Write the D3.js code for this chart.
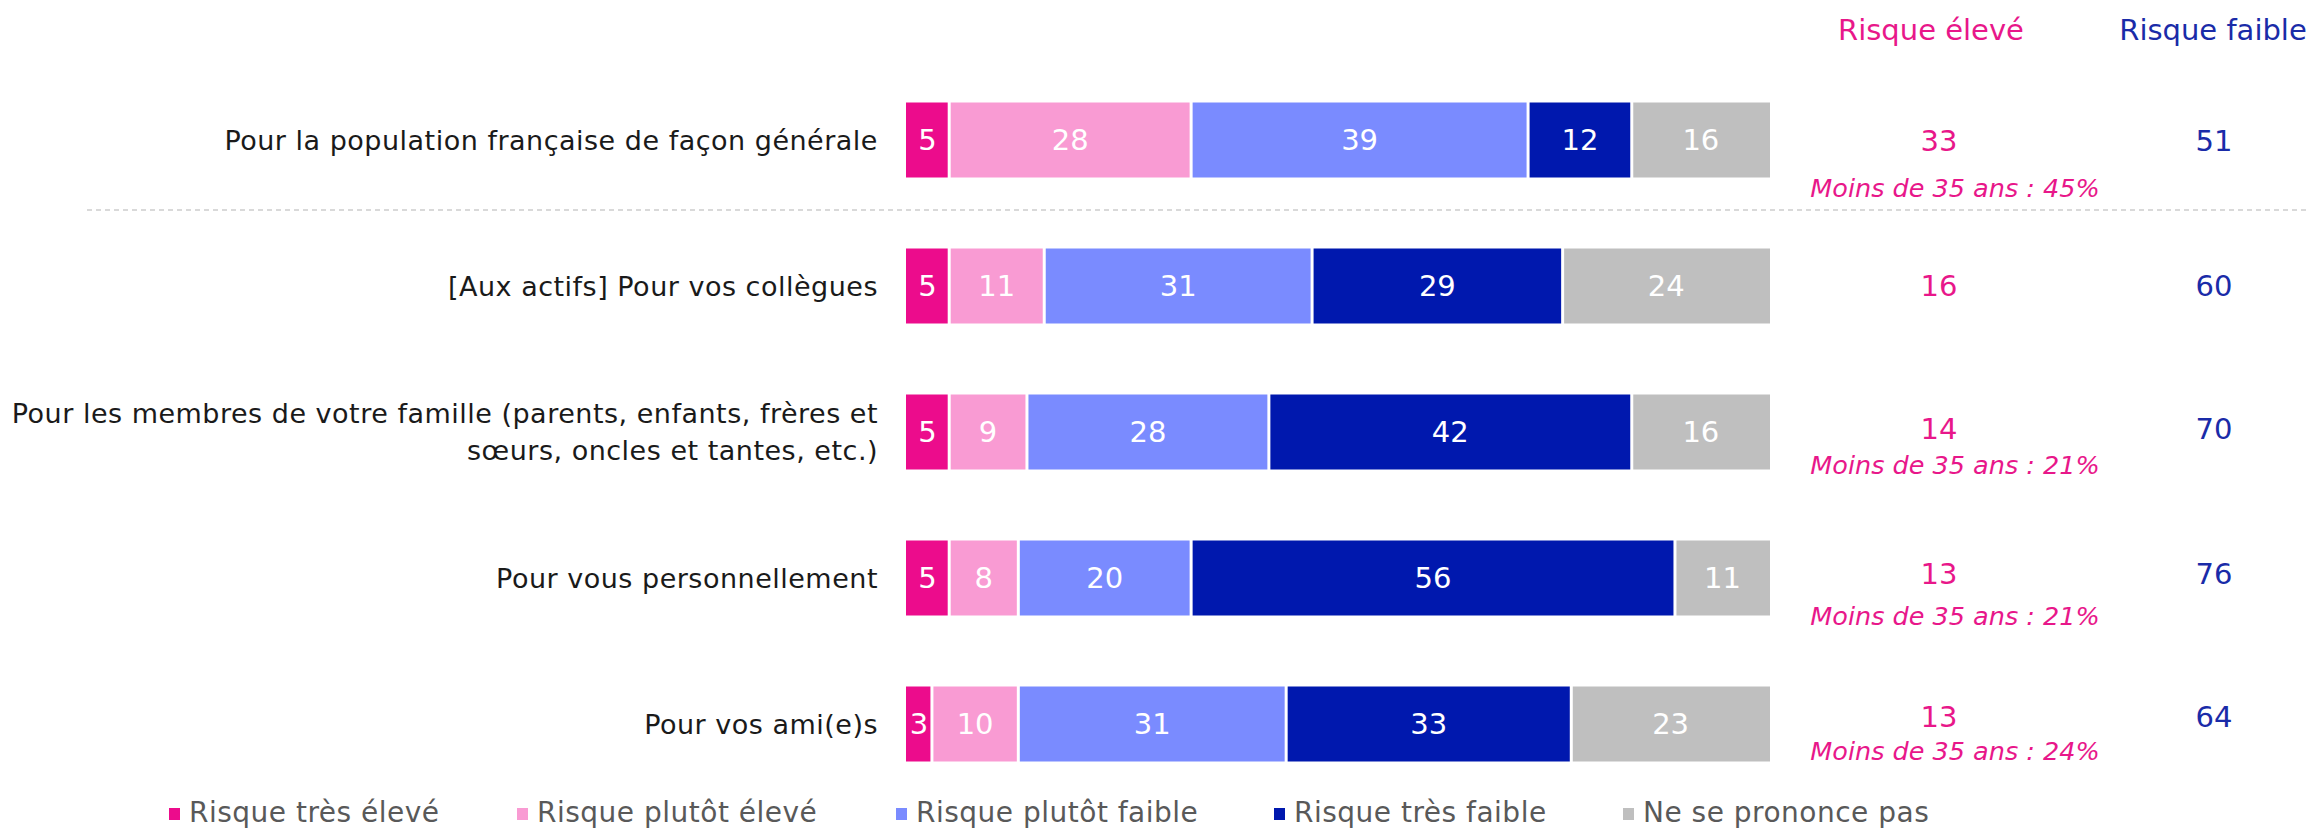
<!DOCTYPE html>
<html>
<head>
<meta charset="utf-8">
<script src="https://cdn.jsdelivr.net/npm/d3@7"></script>
<style>
  body { margin: 0; background: #fff; }
  text { font-family: "Century Gothic", "DejaVu Sans", sans-serif; }
</style>
</head>
<body>
<script>
// categories (top to bottom)
const categories = [
  ["Pour la population française de façon générale"],
  ["[Aux actifs] Pour vos collègues"],
  ["Pour les membres de votre famille (parents, enfants, frères et", "sœurs, oncles et tantes, etc.)"],
  ["Pour vous personnellement"],
  ["Pour vos ami(e)s"]
];

const seriesNames = ["Risque très élevé", "Risque plutôt élevé", "Risque plutôt faible", "Risque très faible", "Ne se prononce pas"];
const seriesColors = ["#ec0c8c", "#f99bd3", "#7a8bff", "#0018ae", "#bfbfbf"];

// values per series, one per category
const tresEleve   = [5, 5, 5, 5, 3];
const plutotEleve = [28, 11, 9, 8, 10];
const plutotFaible = [39, 31, 28, 20, 31];
const tresFaible  = [12, 29, 42, 56, 33];
const nsp         = [16, 24, 16, 11, 23];

// summary columns
const risqueEleve = [33, 16, 14, 13, 13];
const risqueFaible = [51, 60, 70, 76, 64];
const moins35 = ["Moins de 35 ans : 45%", null, "Moins de 35 ans : 21%", "Moins de 35 ans : 21%", "Moins de 35 ans : 24%"];

// small vertical nudges of the right-hand texts, per row (layout only)
const valueNudge = [1, 0, -3, -4, -7];
const noteNudge = [48, 0, 33, 38, 27];

const W = 2318, H = 830;
const pink = "#e8178a", blue = "#1a2ba8";

const svg = d3.select("body").append("svg")
  .attr("width", W).attr("height", H);

const x = d3.scaleLinear().domain([0, 100]).range([906, 1770]);
const y = d3.scalePoint().domain(d3.range(categories.length)).range([140, 724]);
const barH = 75;

const series = [tresEleve, plutotEleve, plutotFaible, tresFaible, nsp];

// build stacked rows
const rows = categories.map((c, i) => {
  let acc = 0;
  return series.map((s, k) => {
    const seg = { row: i, k: k, v: s[i], x0: acc, x1: acc + s[i] };
    acc += s[i];
    return seg;
  });
});

// dashed separator under first row
svg.append("line")
  .attr("x1", 87).attr("x2", 2306)
  .attr("y1", 210).attr("y2", 210)
  .attr("stroke", "#d9d9d9").attr("stroke-width", 2)
  .attr("stroke-dasharray", "5,4");

const g = svg.append("g");
rows.forEach(segs => {
  const rg = g.append("g");
  rg.selectAll("rect").data(segs).enter().append("rect")
    .attr("x", d => x(d.x0) + (d.k > 0 ? 1.5 : 0))
    .attr("width", d => x(d.x1) - x(d.x0) - (d.k > 0 ? 1.5 : 0) - (d.k < 4 ? 1.5 : 0))
    .attr("y", d => y(d.row) - barH / 2)
    .attr("height", barH)
    .attr("fill", d => seriesColors[d.k]);
  rg.selectAll("text").data(segs).enter().append("text")
    .attr("x", d => (x(d.x0) + x(d.x1)) / 2)
    .attr("y", d => y(d.row))
    .attr("dy", "0.36em")
    .attr("text-anchor", "middle")
    .attr("fill", "#fff")
    .attr("font-size", 29)
    .text(d => d.v);
});

// category labels
categories.forEach((lines, i) => {
  const t = svg.append("text")
    .attr("text-anchor", "end")
    .attr("fill", "#1a1a1a")
    .attr("font-size", 27)
    .attr("letter-spacing", 0.5);
  lines.forEach((ln, j) => {
    t.append("tspan")
      .attr("x", 878)
      .attr("y", y(i) + (j - (lines.length - 1) / 2) * 37)
      .attr("dy", "0.36em")
      .text(ln);
  });
});

// column headers
svg.append("text").attr("x", 1931).attr("y", 40).attr("text-anchor", "middle")
  .attr("fill", pink).attr("font-size", 29).text("Risque élevé");
svg.append("text").attr("x", 2213).attr("y", 40).attr("text-anchor", "middle")
  .attr("fill", blue).attr("font-size", 29).text("Risque faible");

// summary values
categories.forEach((c, i) => {
  svg.append("text").attr("x", 1939).attr("y", y(i) + valueNudge[i]).attr("dy", "0.36em")
    .attr("text-anchor", "middle").attr("fill", pink).attr("font-size", 29)
    .text(risqueEleve[i]);
  svg.append("text").attr("x", 2214).attr("y", y(i) + valueNudge[i]).attr("dy", "0.36em")
    .attr("text-anchor", "middle").attr("fill", blue).attr("font-size", 29)
    .text(risqueFaible[i]);
  if (moins35[i]) {
    svg.append("text").attr("x", 1955).attr("y", y(i) + noteNudge[i]).attr("dy", "0.36em")
      .attr("text-anchor", "middle").attr("fill", pink).attr("font-size", 25.5)
      .attr("font-style", "italic")
      .text(moins35[i]);
  }
});

// legend
const legendX = [169, 517, 896, 1274, 1623];
const lg = svg.append("g").selectAll("g").data(seriesNames).enter().append("g")
  .attr("transform", (d, i) => "translate(" + legendX[i] + ",0)");
lg.append("rect").attr("x", 0).attr("y", 808).attr("width", 11).attr("height", 12)
  .attr("fill", (d, i) => seriesColors[i]);
lg.append("text").attr("x", 20).attr("y", 822).attr("fill", "#595959")
  .attr("font-size", 28).attr("letter-spacing", 0.5).text(d => d);
</script>
</body>
</html>
